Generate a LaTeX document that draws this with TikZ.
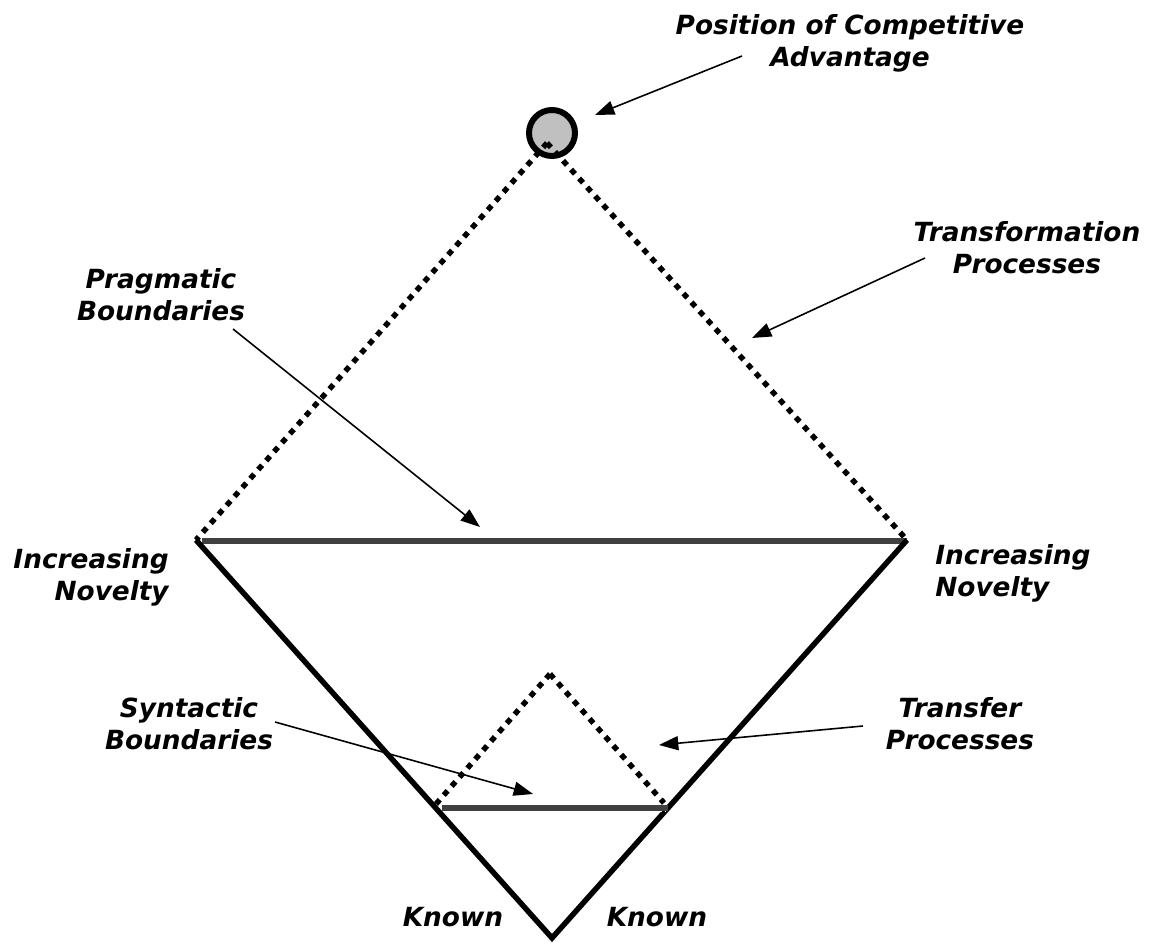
\documentclass[tikz,border=0pt]{standalone}
\usepackage{fontspec}
\setmainfont{DejaVu Sans}
\usetikzlibrary{arrows.meta}
\definecolor{bndgray}{HTML}{404040}
\definecolor{cpagray}{HTML}{C0C0C0}
\tikzset{
  lbl/.style={font=\fontsize{15}{18.2}\selectfont\bfseries\itshape, inner sep=0pt},
  dotline/.style={line width=3.1pt, dash pattern=on 3.3pt off 3.5pt},
  solidline/.style={line width=3.1pt},
  boundline/.style={line width=3.4pt, draw=bndgray},
  callout/.style={line width=0.9pt, -{Triangle[length=11pt,width=8pt]}},
}
\begin{document}
\begin{tikzpicture}[x=0.02cm,y=-0.02cm]
  \useasboundingbox (0,0) rectangle (1156,945);
  %% Corners of the two triangles
  \coordinate (apex) at (547,143);
  \coordinate (pl) at (196,540);
  \coordinate (pr) at (907,540);
  \coordinate (known) at (552,938);
  \coordinate (sa) at (550,674);
  \coordinate (sl) at (436,804);
  \coordinate (sr) at (664,803);
  %% Position of competitive advantage
  \node[circle,draw,line width=3.4pt,fill=cpagray,minimum size=0.92cm,inner sep=0pt] (cpa) at (552,133) {};
  %% Transformation processes
  \draw[dotline] (apex) -- (pl);
  \draw[dotline] (apex) -- (pr);
  %% Pragmatic boundary
  \draw[boundline] (202,541) -- (907,541);
  \draw[white,line width=0.5pt,dash pattern=on 4pt off 2pt] (204,544) -- (905,544);
  %% Known to novel
  \draw[solidline,line join=miter] (pl) -- (known) -- (pr);
  %% Transfer processes
  \draw[dotline] (sa) -- (sl);
  \draw[dotline] (sa) -- (sr);
  %% Syntactic boundary
  \draw[boundline] (442,808) -- (668,808);
  \draw[white,line width=0.5pt,dash pattern=on 4pt off 2pt] (444,811) -- (666,811);
  %% Labels
  \node[lbl,align=center] (posadv) at (850,43) {Position of Competitive\\Advantage};
  \node[lbl,align=center] (transf) at (1027,248) {Transformation\\Processes};
  \node[lbl,align=center] (pragb) at (161,295) {Pragmatic\\Boundaries};
  \node[lbl,align=right,anchor=east] (novl) at (169,577) {Increasing\\Novelty};
  \node[lbl,align=left,anchor=west] (novr) at (935,573) {Increasing\\Novelty};
  \node[lbl,align=center] (syntb) at (189,724) {Syntactic\\Boundaries};
  \node[lbl,align=center] (transfr) at (960,724) {Transfer\\Processes};
  \node[lbl] (knownl) at (453,917) {Known};
  \node[lbl] (knownr) at (657,917) {Known};
  %% Callouts
  \coordinate (posadv-t) at (742,56);   \coordinate (posadv-h) at (595,115);
  \coordinate (transf-t) at (925,258);  \coordinate (transf-h) at (752,338);
  \coordinate (pragb-t) at (233,329);   \coordinate (pragb-h) at (480,527);
  \coordinate (syntb-t) at (275,722);   \coordinate (syntb-h) at (533,794);
  \coordinate (transfr-t) at (863,726); \coordinate (transfr-h) at (659,745);
  \draw[callout] (posadv-t) -- (posadv-h);
  \draw[callout] (transf-t) -- (transf-h);
  \draw[callout] (pragb-t) -- (pragb-h);
  \draw[callout] (syntb-t) -- (syntb-h);
  \draw[callout] (transfr-t) -- (transfr-h);
\end{tikzpicture}
\end{document}
